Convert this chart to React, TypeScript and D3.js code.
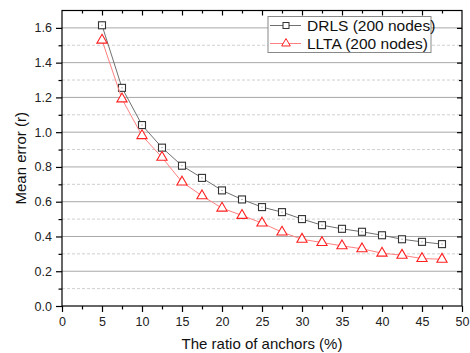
import { useRef, useEffect } from "react";
import * as d3 from "d3";

const ratios = [5, 7.5, 10, 12.5, 15, 17.5, 20, 22.5, 25, 27.5, 30, 32.5, 35, 37.5, 40, 42.5, 45, 47.5];
const drls = [1.615, 1.255, 1.041, 0.911, 0.807, 0.737, 0.665, 0.613, 0.569, 0.54, 0.5, 0.465, 0.444, 0.427, 0.407, 0.384, 0.369, 0.356];
const llta = [1.529, 1.191, 0.98, 0.855, 0.713, 0.634, 0.563, 0.521, 0.477, 0.425, 0.384, 0.365, 0.346, 0.329, 0.304, 0.292, 0.273, 0.269];
const xTicks = [0, 5, 10, 15, 20, 25, 30, 35, 40, 45, 50];
const yTicks = [0, 0.2, 0.4, 0.6, 0.8, 1.0, 1.2, 1.4, 1.6];
const seriesNames = ["DRLS (200 nodes)", "LLTA (200 nodes)"];

const FONT = "'Liberation Sans', Arial, sans-serif";

export default function App() {
  const svgRef = useRef<SVGSVGElement>(null);

  useEffect(() => {
    if (!svgRef.current) return;
    const svg = d3.select(svgRef.current);
    svg.selectAll("*").remove();

    const margin = { top: 10.5, right: 8, bottom: 47, left: 62 };
    const W = 470, H = 353;
    const width = W - margin.left - margin.right;
    const height = H - margin.top - margin.bottom;

    const g = svg.append("g").attr("transform", `translate(${margin.left},${margin.top})`);

    const x = d3.scaleLinear().domain([0, 50]).range([0, width]);
    const y = d3.scaleLinear().domain([0, 1.7]).range([height, 0]);

    // grid: minor dashed, major solid
    const minor = d3.range(0.1, 1.7, 0.2);
    g.selectAll(".minor-grid")
      .data(minor)
      .join("line")
      .attr("x1", 0).attr("x2", width)
      .attr("y1", (d) => y(d)).attr("y2", (d) => y(d))
      .attr("stroke", "#cfcfcf")
      .attr("stroke-dasharray", "3,2");
    g.selectAll(".major-grid")
      .data(yTicks.slice(1))
      .join("line")
      .attr("x1", 0).attr("x2", width)
      .attr("y1", (d) => y(d)).attr("y2", (d) => y(d))
      .attr("stroke", "#a8a8a8");

    // axes
    const xMinor = d3.range(2.5, 50, 5);
    const tickStyle = (sel: any) => {
      sel.selectAll(".domain").remove();
      sel.selectAll(".tick line").attr("stroke", "#000").attr("stroke-width", 1.2);
      sel.selectAll("text").attr("fill", "#222").style("font-size", "12.5px").style("font-family", FONT);
    };

    g.append("g")
      .attr("transform", `translate(0,${height})`)
      .call(d3.axisBottom(x).tickValues(xTicks).tickSize(6).tickPadding(5).tickFormat((d: any) => String(d)))
      .call(tickStyle);
    g.append("g")
      .attr("transform", `translate(0,${height})`)
      .call(d3.axisBottom(x).tickValues(xMinor).tickSize(3.5).tickFormat(() => ""))
      .call(tickStyle);
    g.append("g")
      .call(d3.axisLeft(y).tickValues(yTicks).tickSize(6).tickPadding(4).tickFormat((d: any) => (+d).toFixed(1)))
      .call(tickStyle);
    g.append("g")
      .call(d3.axisLeft(y).tickValues(minor).tickSize(3.5).tickFormat(() => ""))
      .call(tickStyle);
    // mirrored inner ticks on top and right
    g.append("g")
      .call(d3.axisBottom(x).tickValues(xTicks.slice(1, -1)).tickSize(5).tickFormat(() => ""))
      .call(tickStyle);
    g.append("g")
      .call(d3.axisBottom(x).tickValues(xMinor).tickSize(3).tickFormat(() => ""))
      .call(tickStyle);
    g.append("g")
      .attr("transform", `translate(${width},0)`)
      .call(d3.axisLeft(y).tickValues(yTicks.slice(1)).tickSize(5).tickFormat(() => ""))
      .call(tickStyle);
    g.append("g")
      .attr("transform", `translate(${width},0)`)
      .call(d3.axisLeft(y).tickValues(minor).tickSize(3).tickFormat(() => ""))
      .call(tickStyle);

    // frame
    g.append("rect")
      .attr("width", width).attr("height", height)
      .attr("fill", "none").attr("stroke", "#000").attr("stroke-width", 1.2);

    const line = d3.line<number>().x((_, i) => x(ratios[i])).y((d) => y(d));

    // DRLS
    g.append("path").datum(drls).attr("d", line).attr("fill", "none").attr("stroke", "#707070").attr("stroke-width", 1);
    g.selectAll(".sq")
      .data(drls)
      .join("rect")
      .attr("x", (_, i) => x(ratios[i]) - 3.5)
      .attr("y", (d) => y(d) - 3.5)
      .attr("width", 7).attr("height", 7)
      .attr("fill", "#fff").attr("stroke", "#333").attr("stroke-width", 1.1);
    g.selectAll(".dot")
      .data(drls)
      .join("rect")
      .attr("x", (_, i) => x(ratios[i]) - 0.5)
      .attr("y", (d) => y(d) - 0.5)
      .attr("width", 1).attr("height", 1)
      .attr("fill", "#777");

    // LLTA
    const tri = d3.symbol().type(d3.symbolTriangle).size(45);
    g.append("path").datum(llta).attr("d", line).attr("fill", "none").attr("stroke", "#ff8080").attr("stroke-width", 1);
    g.selectAll(".tri")
      .data(llta)
      .join("path")
      .attr("transform", (d, i) => `translate(${x(ratios[i])},${y(d)})`)
      .attr("d", tri)
      .attr("fill", "#fff").attr("stroke", "#ff2020").attr("stroke-width", 1.1);

    // legend
    const lg = svg.append("g").attr("transform", "translate(268,16.5)");
    lg.append("rect").attr("width", 163).attr("height", 36).attr("fill", "#fff").attr("stroke", "#888");
    const legendColors = [
      { line: "#707070", mark: "#333" },
      { line: "#ff8080", mark: "#ff2020" },
    ];
    seriesNames.forEach((name, i) => {
      const cy = 9 + i * 18;
      lg.append("line").attr("x1", 2).attr("x2", 33).attr("y1", cy).attr("y2", cy).attr("stroke", legendColors[i].line);
      if (i === 0) {
        lg.append("rect").attr("x", 15).attr("y", cy - 3).attr("width", 6).attr("height", 6)
          .attr("fill", "#fff").attr("stroke", legendColors[i].mark);
      } else {
        lg.append("path").attr("transform", `translate(18,${cy})`)
          .attr("d", d3.symbol().type(d3.symbolTriangle).size(32))
          .attr("fill", "#fff").attr("stroke", legendColors[i].mark);
      }
      lg.append("text").attr("x", 39).attr("y", cy + 5.5)
        .attr("fill", "#111").style("font-size", "15.5px").style("font-family", FONT)
        .text(name);
    });

    // axis titles
    svg.append("text")
      .attr("x", margin.left + width / 2).attr("y", 349)
      .attr("text-anchor", "middle").attr("fill", "#111")
      .style("font-size", "15px").style("font-family", FONT)
      .text("The ratio of anchors (%)");
    svg.append("text")
      .attr("transform", `translate(26,${margin.top + height / 2}) rotate(-90)`)
      .attr("text-anchor", "middle").attr("fill", "#111")
      .style("font-size", "15px").style("font-family", FONT)
      .text("Mean error (r)");
  }, []);

  return (
    <svg
      ref={svgRef}
      width={470}
      height={353}
      style={{ position: "absolute", left: 0, top: 0, background: "#fff" }}
    />
  );
}
